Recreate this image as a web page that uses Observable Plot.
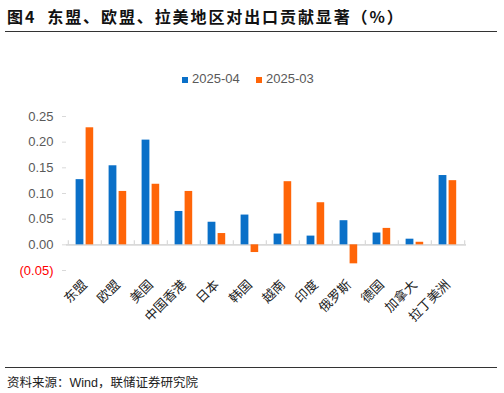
<!DOCTYPE html>
<html>
<head>
<meta charset="utf-8">
<script src="https://cdn.jsdelivr.net/npm/d3@7"></script>
<script src="https://cdn.jsdelivr.net/npm/@observablehq/plot@0.6"></script>
<style>
  html, body { margin: 0; padding: 0; background: #fff; }
  #wrap { position: relative; width: 504px; height: 393px; overflow: hidden;
          font-family: "Liberation Sans", "Noto Sans CJK SC", sans-serif; }
  #title { position: absolute; left: 7px; top: 4px; font-size: 16px; font-weight: bold;
           color: #111; letter-spacing: 1.9px; white-space: nowrap;
           font-family: "Noto Sans CJK SC", sans-serif; }
  .hline { position: absolute; left: 5px; width: 492px; height: 0; border-top: 1.4px solid #333; }
  #legend { position: absolute; top: 71px; left: 0; font-size: 13px; color: #595959; }
  .sw { position: absolute; width: 6px; height: 6px; top: 6px; }
  .lt { position: absolute; top: 0; white-space: nowrap; }
  #chart { position: absolute; left: 0; top: 100px; }
  #caption { position: absolute; left: 7px; top: 372px; font-size: 12.5px; color: #222; white-space: nowrap;
             font-family: "Liberation Sans", "Noto Sans CJK SC", sans-serif; }
</style>
</head>
<body>
<div id="wrap">
  <div id="title">图4&nbsp;&nbsp;东盟、欧盟、拉美地区对出口贡献显著（%）</div>
  <div class="hline" style="top:31px"></div>
  <div id="legend"></div>
  <div id="chart"></div>
  <div class="hline" style="top:367px"></div>
  <div id="caption">资料来源：Wind，联储证券研究院</div>
</div>
<script>
const categories = ["东盟", "欧盟", "美国", "中国香港", "日本", "韩国", "越南", "印度", "俄罗斯", "德国", "加拿大", "拉丁美洲"];
const seriesNames = ["2025-04", "2025-03"];
const values202504 = [0.127, 0.154, 0.204, 0.065, 0.044, 0.058, 0.021, 0.017, 0.047, 0.023, 0.011, 0.135];
const values202503 = [0.228, 0.104, 0.118, 0.104, 0.022, -0.015, 0.123, 0.082, -0.037, 0.032, 0.005, 0.125];
const yTicks = [-0.05, 0, 0.05, 0.10, 0.15, 0.20, 0.25];
const colors = ["#0A70C8", "#FF6508"];

const d04 = categories.map((c, i) => ({cat: c, v: values202504[i]}));
const d03 = categories.map((c, i) => ({cat: c, v: values202503[i]}));

// legend
const legend = document.getElementById("legend");
const legendX = [182, 256];
seriesNames.forEach((s, i) => {
  const sw = document.createElement("div");
  sw.className = "sw"; sw.style.left = legendX[i] + "px"; sw.style.background = colors[i];
  const t = document.createElement("div");
  t.className = "lt"; t.style.left = (legendX[i] + 10) + "px"; t.textContent = s;
  legend.appendChild(sw); legend.appendChild(t);
});

const W = 504, ML = 66, MR = 38;
const step = (W - ML - MR) / categories.length;
const fmt = d => d < 0 ? `(${Math.abs(d).toFixed(2)})` : d.toFixed(2);
const axisGray = "#d9d9d9";

const plot = Plot.plot({
  width: W,
  height: 265,
  marginTop: 16,
  marginBottom: 95,
  marginLeft: ML,
  marginRight: MR,
  style: {fontFamily: "Liberation Sans, Noto Sans CJK SC, sans-serif", fontSize: "13px", background: "transparent"},
  x: {type: "band", domain: categories, paddingInner: 0, paddingOuter: 0, label: null},
  y: {domain: [-0.05, 0.25], label: null},
  marks: [
    Plot.ruleY([0], {stroke: axisGray, strokeWidth: 1.6}),
    Plot.ruleX(categories, {x: d => d, y1: 0, y2: 0.008, dx: -step / 2, stroke: axisGray, strokeWidth: 1.2}),
    Plot.ruleX([categories[categories.length - 1]], {x: d => d, y1: 0, y2: 0.008, dx: step / 2, stroke: axisGray, strokeWidth: 1.2}),
    Plot.barY(d04, {x: "cat", y: "v", fill: colors[0], insetLeft: 7.6, insetRight: 17.6}),
    Plot.barY(d03, {x: "cat", y: "v", fill: colors[1], insetLeft: 17.6, insetRight: 7.8}),
    Plot.axisY({ticks: yTicks.filter(t => t >= 0), tickFormat: fmt, tickSize: 4, tickPadding: 9,
                stroke: axisGray, fill: "#595959", fontSize: 13, line: true, label: null}),
    Plot.axisY({ticks: yTicks.filter(t => t < 0), tickFormat: fmt, tickSize: 4, tickPadding: 9,
                stroke: axisGray, fill: "#ff0000", fontSize: 13, label: null}),
    Plot.axisX({tickSize: 0, tickRotate: -45, tickPadding: 12, fill: "#222", fontSize: 13,
                fontFamily: "Noto Sans CJK SC, sans-serif", label: null})
  ]
});
document.getElementById("chart").appendChild(plot);
</script>
</body>
</html>
